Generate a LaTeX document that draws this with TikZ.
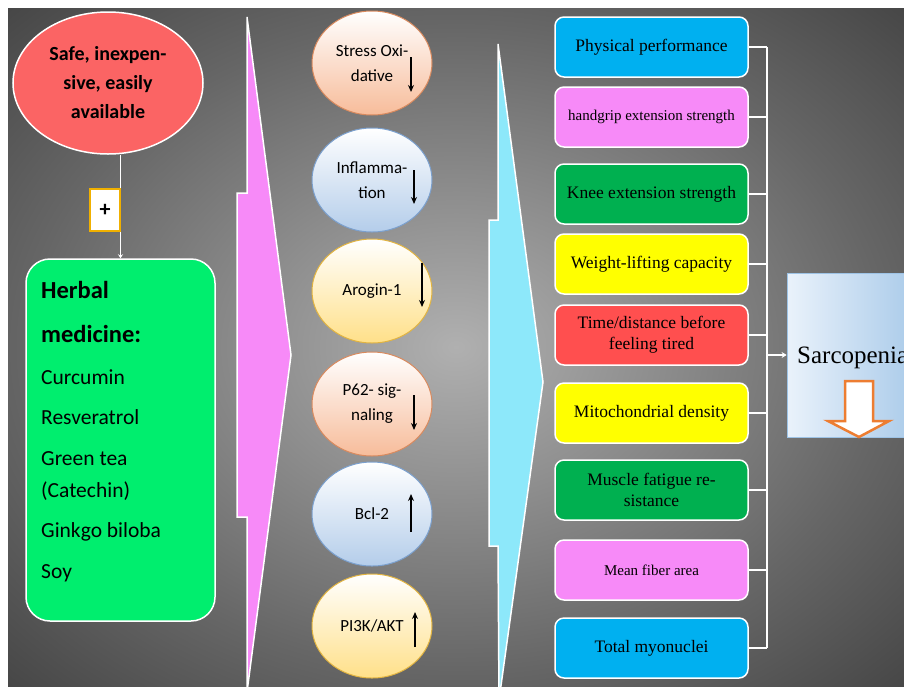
\documentclass[tikz,border=0pt]{standalone}
\usepackage{fontspec}
\setmainfont{Liberation Serif}
\newfontfamily\calib{Carlito}
\usetikzlibrary{positioning,shapes.geometric,arrows.meta,calc}

\definecolor{safered}{HTML}{FB6464}
\definecolor{herbgreen}{HTML}{00EE6E}
\definecolor{plusgold}{HTML}{F0B000}
\definecolor{pinkarr}{HTML}{F78AF8}
\definecolor{cyanarr}{HTML}{8DE8FA}
\definecolor{peach}{HTML}{F7BC9A}
\definecolor{peachrim}{HTML}{D98A5E}
\definecolor{sky}{HTML}{B4CDEA}
\definecolor{skyrim}{HTML}{7BA0CE}
\definecolor{butter}{HTML}{FFE089}
\definecolor{butterrim}{HTML}{E2B441}
\definecolor{boxcyan}{HTML}{00B0F0}
\definecolor{boxpink}{HTML}{F78AF8}
\definecolor{boxgreen}{HTML}{00B050}
\definecolor{boxyellow}{HTML}{FFFF00}
\definecolor{boxred}{HTML}{FF4F4F}
\definecolor{sarcolight}{HTML}{EAF2FB}
\definecolor{sarcodark}{HTML}{9DC3E6}
\definecolor{downorange}{HTML}{ED7D31}
\colorlet{bgin}{black!31}
\colorlet{bgmid}{black!60}
\colorlet{bgedge}{black!88}
\colorlet{bgout}{black!97}
\pgfdeclareradialshading{glow}{\pgfpoint{0bp}{0bp}}{color(0bp)=(bgin); color(24bp)=(bgmid); color(50bp)=(bgedge); color(70bp)=(bgout)}

\begin{document}
\begin{tikzpicture}[x=1pt,y=-1pt,
	link/.style={draw=white,line width=1.5pt},
	bubble/.style={ellipse,line width=1pt,minimum width=120,minimum height=104,inner sep=0,align=center,font=\calib\fontsize{17}{25}\selectfont},
	trend/.style={line width=1.8pt,-{Stealth[length=7pt,width=6pt]}},
	outbox/.style={draw=white,line width=1.5pt,rounded corners=9,minimum width=193,minimum height=60,inner sep=2pt,align=center,text=black},
	herbhead/.style={anchor=base west,inner sep=0,font=\calib\bfseries\fontsize{24.5}{30}\selectfont},
	herbitem/.style={anchor=base west,inner sep=0,font=\calib\fontsize{21.5}{26}\selectfont}]

\useasboundingbox (0,0) rectangle (904,686);
\fill[white] (0,0) rectangle (904,686);
\shade[shading=glow] (8,8) rectangle (904,686);

\draw[white,line width=1.5pt,fill=pinkarr] (247,17) -- (291,355) -- (247,692) -- (247,517) -- (237,517) -- (237,193) -- (247,193) -- cycle;
\draw[white,line width=1.5pt,fill=cyanarr] (498,44) -- (543,382) -- (499,700) -- (498,546) -- (489,546) -- (489,220) -- (498,220) -- cycle;

\node[ellipse,draw=white,line width=1.5pt,fill=safered,minimum width=190,minimum height=142,inner sep=0,align=center,font=\calib\bfseries\fontsize{20}{29}\selectfont] (safe) at (108,83) {Safe, inexpen-\\sive, easily\\available};
\node[draw=white,line width=1.5pt,fill=herbgreen,rounded corners=24,minimum width=189,minimum height=362] (herbal) at (120.5,440) {};
\draw[link,-{Stealth[length=4pt,width=5pt]}] (herbal.north |- safe.south) -- (herbal.north);
\node[draw=plusgold,line width=1.8pt,fill=white,minimum width=30,minimum height=42,inner sep=0,font=\calib\bfseries\fontsize{22}{22}\selectfont] (plus) at (105,210) {+};

\foreach[count=\c] \t/\y in {Herbal/298,medicine:/342}
	\node[herbhead] (head\c) at (41,\y) {\t};
\foreach[count=\c] \t/\y in {Curcumin/384,Resveratrol/424,Green tea/465,{(Catechin)}/497,Ginkgo biloba/537,Soy/578}
	\node[herbitem] (item\c) at (41,\y) {\t};

\foreach[count=\c] \y/\hue/\rim/\txt in {63/peach/peachrim/{Stress Oxi-\\dative},180/sky/skyrim/{Inflamma-\\tion},291/butter/butterrim/{Arogin-1},404/peach/peachrim/{P62- sig-\\naling},514/sky/skyrim/{Bcl-2},626/butter/butterrim/{PI3K/AKT}}
	\node[bubble,draw=\rim,top color=white,bottom color=\hue] (c\c) at (372,\y) {\txt};
\foreach \c/\dx/\ya/\yb in {1/39/-6/29,2/42/-10/24,3/50/-28/16,4/42/-9/26,5/39/18/-20,6/43/21/-14}
	\draw[trend] ($(c\c)+(\dx,\ya)$) -- ($(c\c)+(\dx,\yb)$);

\foreach[count=\c] \y/\col/\fs/\txt in {47/boxcyan/17.5/Physical performance,117/boxpink/15/handgrip extension strength,194/boxgreen/17.5/Knee extension strength,264/boxyellow/17.5/Weight-lifting capacity,335/boxred/17.5/{Time/distance before\\feeling tired},413/boxyellow/17.5/Mitochondrial density,490/boxgreen/17.5/{Muscle fatigue re-\\sistance},570/boxpink/15/Mean fiber area,648/boxcyan/17.5/Total myonuclei}
	\node[outbox,fill=\col,font=\fontsize{\fs}{21}\selectfont] (b\c) at (651.5,\y) {\txt};

\coordinate (bus) at (767,0);
\foreach \c in {1,...,9}
	\draw[link] (b\c.east) -- (b\c.east -| bus);
\draw[link] (b1.east -| bus) -- (b9.east -| bus);

\node[draw=sarcodark,line width=0.8pt,left color=sarcolight,right color=sarcodark,minimum width=153,minimum height=164] (sarco) at (863.5,355) {};
\draw[link,-{Stealth[length=5pt,width=6pt]}] (bus |- sarco.west) -- (sarco.west);
\node[anchor=base west,inner sep=0,font=\fontsize{25}{25}\selectfont] (sarcolabel) at (797,363) {Sarcopenia};
\draw[downorange,fill=white,line width=2.5pt] (845,381) -- (873,381) -- (873,421) -- (889,421) -- (859,437) -- (828,421) -- (845,421) -- cycle;

\end{tikzpicture}
\end{document}
